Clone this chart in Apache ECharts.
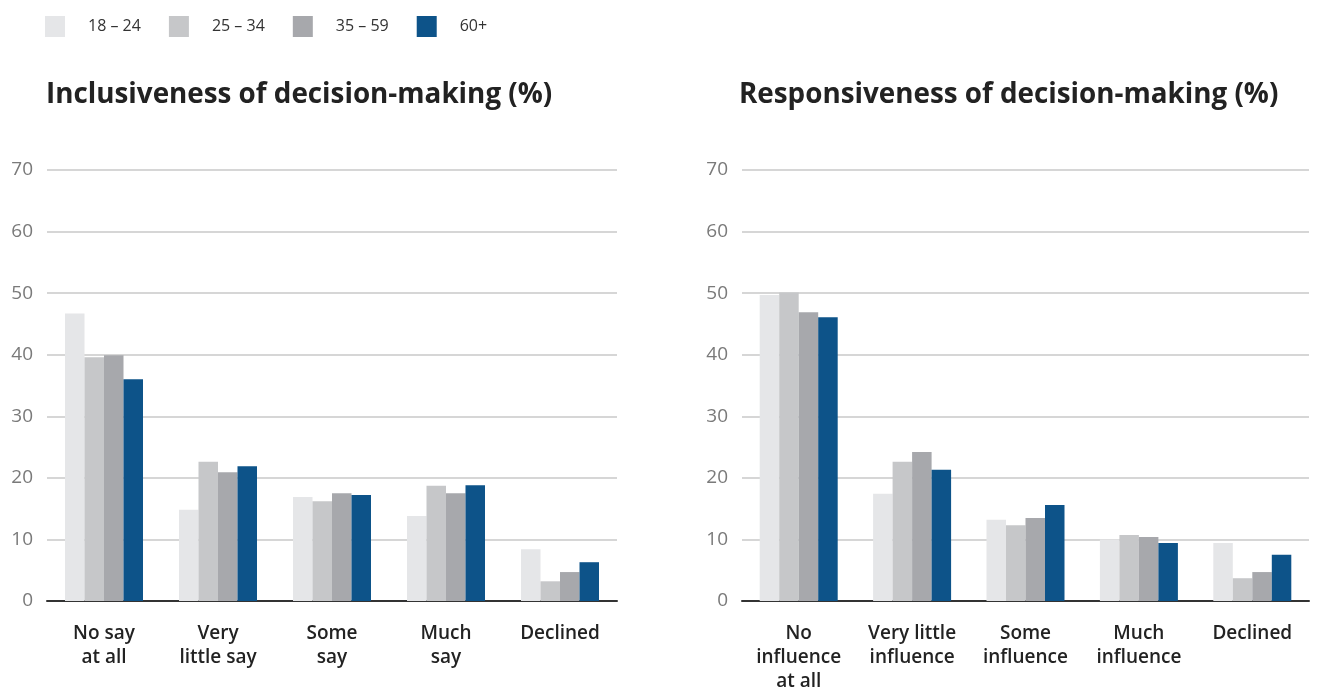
<!DOCTYPE html>
<html>
<head>
<meta charset="utf-8">
<script src="https://cdn.jsdelivr.net/npm/echarts@6/dist/echarts.min.js"></script>
<style>
  html, body { margin: 0; padding: 0; background: #fff; }
  #chart { width: 1320px; height: 687px; }
</style>
</head>
<body>
<div id="chart"></div>
<script>
// age groups (legend)
const ageGroups = ['18 – 24', '25 – 34', '35 – 59', '60+']
const colors = ['#e5e6e8', '#c6c7c9', '#a7a8ac', '#0d5389']

// left panel
const leftTitle = 'Inclusiveness of decision-making (%)'
const leftCats = ['No say\nat all', 'Very\nlittle say', 'Some\nsay', 'Much\nsay', 'Declined']
const left1824 = [46.7, 14.8, 16.9, 13.8, 8.4]
const left2534 = [39.6, 22.6, 16.2, 18.7, 3.2]
const left3559 = [39.9, 20.9, 17.5, 17.5, 4.7]
const left60 = [36.0, 21.9, 17.2, 18.8, 6.3]

// right panel
const rightTitle = 'Responsiveness of decision-making (%)'
const rightCats = ['No\ninfluence\nat all', 'Very little\ninfluence', 'Some\ninfluence', 'Much\ninfluence', 'Declined']
const right1824 = [49.7, 17.4, 13.2, 10.0, 9.4]
const right2534 = [50.1, 22.6, 12.3, 10.7, 3.7]
const right3559 = [46.9, 24.2, 13.5, 10.4, 4.7]
const right60 = [46.1, 21.3, 15.6, 9.4, 7.5]

const leftData = [left1824, left2534, left3559, left60]
const rightData = [right1824, right2534, right3559, right60]

const font = "'Open Sans', 'Noto Sans', sans-serif"

const chartInstance = echarts.init(document.getElementById('chart'))

function xAxisFor(cats, idx) {
  return {
    type: 'category',
    gridIndex: idx,
    data: cats,
    axisLine: { show: true, lineStyle: { color: '#333', width: 2 } },
    axisTick: { show: false },
    axisLabel: {
      interval: 0,
      margin: 21,
      color: '#222',
      fontFamily: font,
      fontSize: 19,
      fontWeight: 600,
      lineHeight: 24,
    },
  }
}

function yAxisFor(idx) {
  return {
    type: 'value',
    gridIndex: idx,
    min: 0,
    max: 70,
    interval: 10,
    axisLine: { show: false },
    axisTick: { show: false },
    axisLabel: { color: '#7a7a7a', fontFamily: font, fontSize: 19, margin: 14 },
    splitLine: { lineStyle: { color: '#c8c8c8', width: 1.5 } },
  }
}

const series = []
ageGroups.forEach((name, i) => {
  series.push({
    name,
    type: 'bar',
    xAxisIndex: 0,
    yAxisIndex: 0,
    data: leftData[i],
    barWidth: 19.5,
    barGap: '0%',
    itemStyle: { color: colors[i] },
  })
  series.push({
    name,
    type: 'bar',
    xAxisIndex: 1,
    yAxisIndex: 1,
    data: rightData[i],
    barWidth: 19.5,
    barGap: '0%',
    itemStyle: { color: colors[i] },
  })
})

const option = {
  animation: false,
  textStyle: { fontFamily: font },
  title: [
    {
      text: leftTitle,
      left: 46,
      top: 81,
      padding: 0,
      textStyle: { fontFamily: font, fontSize: 27.8, fontWeight: 'bold', color: '#222' },
    },
    {
      text: rightTitle,
      left: 739,
      top: 81,
      padding: 0,
      textStyle: { fontFamily: font, fontSize: 27.8, fontWeight: 'bold', color: '#222' },
    },
  ],
  legend: {
    data: ageGroups,
    left: 45,
    top: 16,
    padding: 0,
    icon: 'rect',
    itemWidth: 20,
    itemHeight: 21,
    itemGap: 28,
    textStyle: {
      fontFamily: font,
      fontSize: 16,
      color: '#333',
      padding: [9, 0, 0, 18],
    },
  },
  grid: [
    { left: 47, right: 703, top: 170, bottom: 86, outerBoundsMode: 'none' },
    { left: 742, right: 11, top: 170, bottom: 86, outerBoundsMode: 'none' },
  ],
  xAxis: [xAxisFor(leftCats, 0), xAxisFor(rightCats, 1)],
  yAxis: [yAxisFor(0), yAxisFor(1)],
  series,
}

option && chartInstance.setOption(option)
</script>
</body>
</html>
